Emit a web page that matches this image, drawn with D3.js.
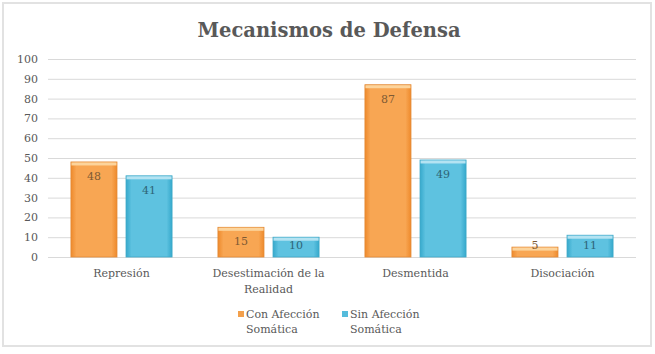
<!DOCTYPE html>
<html><head><meta charset="utf-8">
<script src="https://cdn.jsdelivr.net/npm/d3@7"></script>
<style>body{margin:0;background:#fff}svg{display:block}</style>
</head><body>
<script>
const categories = ["Represión", "Desestimación de la Realidad", "Desmentida", "Disociación"];
const categoryLines = [["Represión"], ["Desestimación de la", "Realidad"], ["Desmentida"], ["Disociación"]];
const seriesNames = ["Con Afección Somática", "Sin Afección Somática"];
const legendLines = [["Con Afección", "Somática"], ["Sin Afección", "Somática"]];
const conValues = [48, 15, 87, 5];
const sinValues = [41, 10, 49, 11];
const yTicks = [0, 10, 20, 30, 40, 50, 60, 70, 80, 90, 100];
const title = "Mecanismos de Defensa";

const W = 655, H = 354;
const svg = d3.select("body").append("svg").attr("width", W).attr("height", H);
const font = "'DejaVu Serif', serif";

// gradients
const defs = svg.append("defs");
function grad(id, edge, mid) {
  const g = defs.append("linearGradient").attr("id", id).attr("x1", "0").attr("x2", "1").attr("y1", "0").attr("y2", "0");
  g.append("stop").attr("offset", "0").attr("stop-color", edge);
  g.append("stop").attr("offset", "0.12").attr("stop-color", mid);
  g.append("stop").attr("offset", "0.88").attr("stop-color", mid);
  g.append("stop").attr("offset", "1").attr("stop-color", edge);
}
grad("gOr", "#EE8A2C", "#F8A653");
grad("gBl", "#36A9CC", "#5EC2E0");
const fills = ["url(#gOr)", "url(#gBl)"];
const tops = ["#FCD49C", "#B4E3F2"];
const strokes = ["#E38A36", "#3FA9C8"];
const labelColors = ["#7E5A33", "#2E6577"];
const legendColors = ["#F3A04C", "#55BCDC"];

// frame
svg.append("rect").attr("x", 3).attr("y", 3).attr("width", 648).attr("height", 343)
  .attr("fill", "#fff").attr("stroke", "#E2E2E2").attr("stroke-width", 2);

svg.append("text").attr("x", 329).attr("y", 37).attr("text-anchor", "middle")
  .attr("font-family", font).attr("font-weight", "bold").attr("font-size", 19.5)
  .attr("fill", "#595959").text(title);

const y = d3.scaleLinear().domain([0, 100]).range([257, 59]);
const x0 = d3.scaleBand().domain(categories).range([48, 636]).padding(0);
const x1 = d3.scaleBand().domain(seriesNames)
  .range([x0.bandwidth() * 0.156, x0.bandwidth() * 0.844]).paddingInner(0.164);

// grid
const yAxis = d3.axisLeft(y).tickValues(yTicks).tickSize(-(636 - 48)).tickPadding(10);
const ga = svg.append("g").attr("transform", "translate(48,0)").call(yAxis);
ga.select(".domain").remove();
ga.selectAll(".tick line").attr("stroke", "#D9D9D9").attr("stroke-width", 1);
ga.selectAll(".tick text").attr("font-family", font).attr("font-size", 11).attr("fill", "#595959");

const data = categories.map((c, i) => ({ cat: c, vals: [conValues[i], sinValues[i]] }));
const groups = svg.append("g").selectAll("g").data(data).join("g")
  .attr("transform", d => `translate(${x0(d.cat)},0)`);

groups.each(function (d) {
  const g = d3.select(this);
  d.vals.forEach((v, si) => {
    const bx = x1(seriesNames[si]), bw = x1.bandwidth();
    const yt = y(v), h = y(0) - y(v);
    g.append("rect").attr("x", bx).attr("y", yt).attr("width", bw).attr("height", h)
      .attr("fill", fills[si]).attr("stroke", strokes[si]).attr("stroke-width", 0.8);
    g.append("rect").attr("x", bx + 0.5).attr("y", yt + 0.5).attr("width", bw - 1).attr("height", Math.min(3, h - 1))
      .attr("fill", tops[si]);
    g.append("text").attr("x", bx + bw / 2).attr("y", Math.min(yt + 18, y(0) - 8)).attr("text-anchor", "middle")
      .attr("font-family", font).attr("font-size", 11).attr("fill", labelColors[si]).text(v);
  });
});

// category labels
categories.forEach((c, i) => {
  const cx = x0(c) + x0.bandwidth() / 2;
  categoryLines[i].forEach((line, li) => {
    svg.append("text").attr("x", cx).attr("y", 277 + li * 16).attr("text-anchor", "middle")
      .attr("font-family", font).attr("font-size", 11).attr("fill", "#595959").text(line);
  });
});

// legend
const legX = [238, 342];
seriesNames.forEach((s, si) => {
  svg.append("rect").attr("x", legX[si]).attr("y", 311).attr("width", 6).attr("height", 6)
    .attr("fill", legendColors[si]);
  legendLines[si].forEach((line, li) => {
    svg.append("text").attr("x", legX[si] + 8).attr("y", 318 + li * 15)
      .attr("font-family", font).attr("font-size", 11).attr("fill", "#595959").text(line);
  });
});
</script>
</body></html>
